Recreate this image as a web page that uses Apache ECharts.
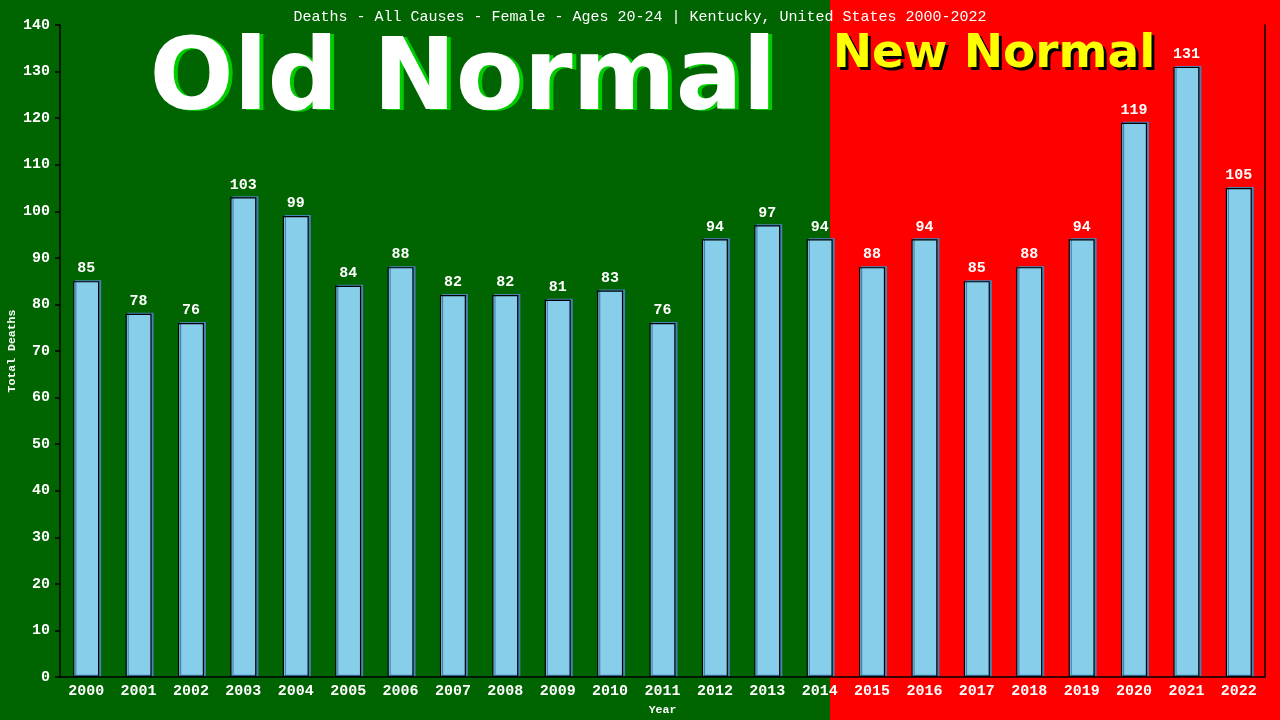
<!DOCTYPE html>
<html>
<head>
<meta charset="utf-8">
<script src="https://cdn.jsdelivr.net/npm/echarts@6/dist/echarts.min.js"></script>
<style>
html, body { margin: 0; padding: 0; background: #006400; }
#chart { width: 1280px; height: 720px; }
</style>
</head>
<body>
<div id="chart"></div>
<script>
// data
const years = ['2000', '2001', '2002', '2003', '2004', '2005', '2006', '2007', '2008', '2009', '2010', '2011',
    '2012', '2013', '2014', '2015', '2016', '2017', '2018', '2019', '2020', '2021', '2022'];
const deaths = [85, 78, 76, 103, 99, 84, 88, 82, 82, 81, 83, 76, 94, 97, 94, 88, 94, 85, 88, 94, 119, 131, 105];
const titleText = 'Deaths - All Causes - Female - Ages 20-24 | Kentucky, United States 2000-2022';
const yName = 'Total Deaths';
const xName = 'Year';

const mono = '"Liberation Mono", "DejaVu Sans Mono", monospace';
const sans = '"DejaVu Sans", Verdana, sans-serif';

const myChart = echarts.init(document.getElementById('chart'));
const option = {
    animation: false,
    backgroundColor: '#006400',
    title: {
        text: titleText,
        left: 'center',
        top: 5,
        textStyle: { color: '#fff', fontFamily: mono, fontSize: 15, fontWeight: 'normal' }
    },
    graphic: [
        // background halves
        { type: 'rect', z: -10, silent: true, shape: { x: 0, y: 0, width: 830, height: 720 }, style: { fill: '#006400' } },
        { type: 'rect', z: -10, silent: true, shape: { x: 830, y: 0, width: 450, height: 720 }, style: { fill: '#ff0000' } },
        // Old Normal with green shadow
        { type: 'text', z: -5, silent: true, x: 467, y: 84,
          style: { text: 'Old Normal', fill: '#00cc00', font: 'bold 99px ' + sans, textAlign: 'center', textVerticalAlign: 'middle' } },
        { type: 'text', z: -4, silent: true, x: 463, y: 83,
          style: { text: 'Old Normal', fill: '#ffffff', font: 'bold 99px ' + sans, textAlign: 'center', textVerticalAlign: 'middle' } },
        // New Normal with black shadow
        { type: 'text', z: -5, silent: true, x: 997, y: 58,
          style: { text: 'New Normal', fill: '#000000', font: 'bold 47px ' + sans, textAlign: 'center', textVerticalAlign: 'middle' } },
        { type: 'text', z: -4, silent: true, x: 994, y: 55,
          style: { text: 'New Normal', fill: '#ffff00', font: 'bold 47px ' + sans, textAlign: 'center', textVerticalAlign: 'middle' } }
    ],
    grid: {
        left: 60,
        right: 15,
        top: 25,
        bottom: 43,
        containLabel: false,
        outerBoundsMode: 'none'
    },
    xAxis: {
        type: 'category',
        data: years,
        name: xName,
        nameLocation: 'middle',
        nameGap: 27,
        nameMoveOverlap: false,
        nameTextStyle: { color: '#fff', fontFamily: mono, fontSize: 11.5, fontWeight: 'bold' },
        axisLine: { lineStyle: { color: '#000', width: 1.5 } },
        axisTick: { show: false },
        axisLabel: { color: '#fff', fontFamily: mono, fontSize: 15, fontWeight: 'bold', margin: 7 }
    },
    yAxis: [{
        type: 'value',
        min: 0,
        max: 140,
        interval: 10,
        name: yName,
        nameLocation: 'middle',
        nameGap: 42,
        nameMoveOverlap: false,
        nameRotate: 90,
        nameTextStyle: { color: '#fff', fontFamily: mono, fontSize: 11.5, fontWeight: 'bold' },
        axisLine: { show: true, lineStyle: { color: '#000', width: 1.5 } },
        axisTick: { show: true, length: 5, lineStyle: { color: '#000', width: 1.5 } },
        axisLabel: { color: '#fff', fontFamily: mono, fontSize: 15, fontWeight: 'bold', margin: 10 },
        splitLine: { show: false }
    }, {
        type: 'value',
        position: 'right',
        min: 0,
        max: 140,
        interval: 10,
        axisLine: { show: true, lineStyle: { color: '#000', width: 1.5 } },
        axisTick: { show: false },
        axisLabel: { show: false },
        splitLine: { show: false }
    }],
    series: [{
        type: 'bar',
        data: deaths,
        barWidth: 26,
        itemStyle: {
            color: '#87CEEB',
            borderColor: '#000',
            borderWidth: 1.2,
            shadowColor: '#4682B4',
            shadowOffsetX: 2,
            shadowOffsetY: -1,
            shadowBlur: 0
        },
        label: {
            show: true,
            position: 'top',
            distance: 5,
            color: '#fff',
            fontFamily: mono,
            fontSize: 15,
            fontWeight: 'bold'
        }
    }]
};

myChart.setOption(option);
window.addEventListener('resize', function () {
    myChart.resize();
});
</script>
</body>
</html>
